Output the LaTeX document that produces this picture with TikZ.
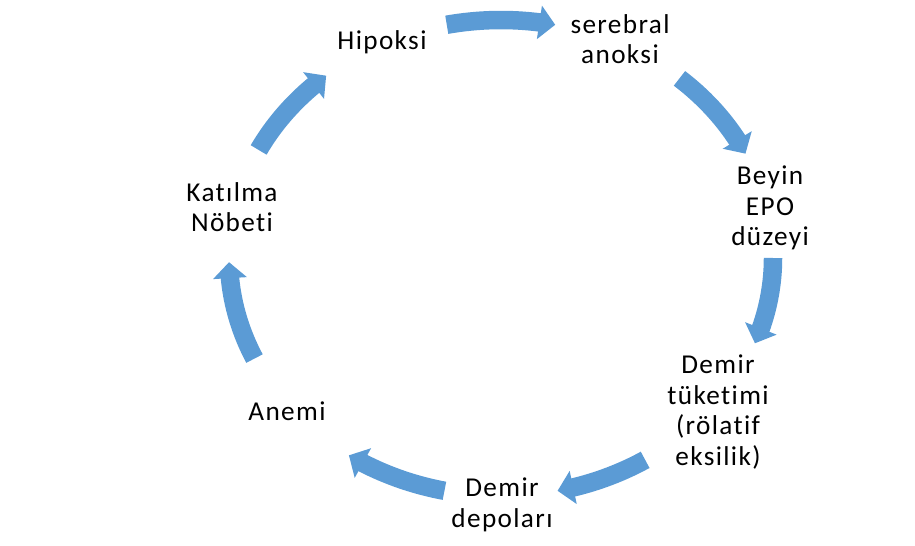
\documentclass[tikz,border=0pt]{standalone}
\usepackage{fontspec}
\setmainfont[LetterSpace=5, Ligatures={NoCommon}]{Carlito}
\usetikzlibrary{arrows.meta,bending,calc}
\definecolor{cycleblue}{RGB}{91,155,213}
\tikzset{
  cyclelabel/.style={align=center, inner sep=0pt, font=\fontsize{15.5}{17.4}\selectfont},
  cyclearrow/.style={draw=cycleblue, line width=0.37cm,
    -{Triangle[width=0.66cm, length=0.32cm]}}
}

\begin{document}
\begin{tikzpicture}[x=0.02cm, y=0.02cm]
    \useasboundingbox (0,0) rectangle (915,545);

    % --- Coordinates ---
    \coordinate (O) at (501,287);
    \coordinate (t1) at ($(O)+(101.5:272 and 238)$);
    \coordinate (t2) at ($(O)+(49:272 and 238)$);
    \coordinate (t3) at ($(O)+(0:272 and 238)$);
    \coordinate (t4) at ($(O)+(-58:272 and 238)$);
    \coordinate (t5) at ($(O)+(-102:272 and 238)$);
    \coordinate (t6) at ($(O)+(205:272 and 238)$);
    \coordinate (t7) at ($(O)+(153:272 and 238)$);

    % --- Labels ---
    \node[cyclelabel] (hipoksi) at (382,503) {Hipoksi};
    \node[cyclelabel] (anoksi)  at (620,506) {serebral\\anoksi};
    \node[cyclelabel] (epo)     at (770,337) {Beyin\\EPO\\düzeyi};
    \node[cyclelabel] (tuketim) at (718,133) {Demir\\tüketimi\\(rölatif\\eksilik)};
    \node[cyclelabel] (depo)    at (502,40)  {Demir\\depoları};
    \node[cyclelabel] (anemi)   at (287,134) {Anemi};
    \node[cyclelabel] (nobet)   at (232,338) {Katılma\\Nöbeti};

    % --- Cycle arrows (clockwise) ---
    \draw[cyclearrow] (t1) arc[start angle=101.5, end angle=78.5, x radius=272, y radius=238];
    \draw[cyclearrow] (t2) arc[start angle=49, end angle=26, x radius=272, y radius=238];
    \draw[cyclearrow] (t3) arc[start angle=0, end angle=-21, x radius=272, y radius=238];
    \draw[cyclearrow] (t4) arc[start angle=-58, end angle=-78, x radius=272, y radius=238];
    \draw[cyclearrow] (t5) arc[start angle=-102, end angle=-124, x radius=272, y radius=238];
    \draw[cyclearrow] (t6) arc[start angle=205, end angle=181, x radius=272, y radius=238];
    \draw[cyclearrow] (t7) arc[start angle=153, end angle=130, x radius=272, y radius=238];

\end{tikzpicture}
\end{document}
